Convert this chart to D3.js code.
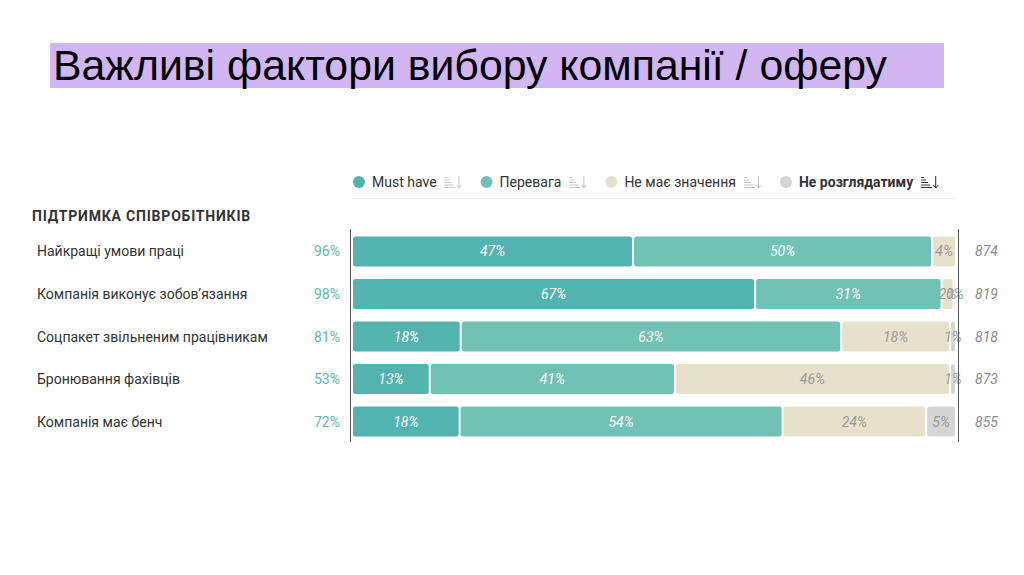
<!DOCTYPE html>
<html><head><meta charset="utf-8">
<script src="https://cdn.jsdelivr.net/npm/d3@7"></script>
<style>
body{margin:0;background:#fff;}
svg{display:block;}
</style></head>
<body>
<svg id="c" width="1024" height="575"></svg>
<script>
const title = "Важливі фактори вибору компанії / оферу";
const groupTitle = "ПІДТРИМКА СПІВРОБІТНИКІВ";
const categories = ["Найкращі умови праці","Компанія виконує зобов’язання","Соцпакет звільненим працівникам","Бронювання фахівців","Компанія має бенч"];
const seriesNames = ["Must have","Перевага","Не має значення","Не розглядатиму"];
const mustHave = [47,67,18,13,18];
const perevaha = [50,31,63,41,54];
const neMaye = [4,2,18,46,24];
const neRozg = [0,0.4,1,1,5];
const positiveTotal = [96,98,81,53,72];
const respondents = [874,819,818,873,855];

const colors = ["#52b4ae","#70c2b5","#e7e1cb","#d5d5d6"];
const labelColors = ["#ffffff","#ffffff","#9a9a96","#9a9a9a"];

const svg = d3.select("#c");
const font = "Roboto, 'Noto Sans', sans-serif";

// title
svg.append("rect").attr("x",50).attr("y",43).attr("width",894).attr("height",45).attr("fill","#d1b6f3");
svg.append("text").attr("x",53).attr("y",80).attr("font-family","'Liberation Sans', Arial, sans-serif")
  .attr("font-size",42.8).attr("fill","#000").text(title);

// legend
const legend = svg.append("g");
let lx = 359;
const legY = 182;
seriesNames.forEach((n,i)=>{
  const g = legend.append("g");
  g.append("circle").attr("cx",lx).attr("cy",legY).attr("r",6).attr("fill",colors[i]);
  const t = g.append("text").attr("x",lx+13).attr("y",legY+5).attr("font-family",font).attr("font-size",14)
    .attr("fill","#333").attr("font-weight", i===3?"bold":"normal").text(n);
  const w = t.node().getComputedTextLength();
  const ix = lx+13+w+8;
  const ic = i===3 ? "#333" : "#c4c4c4";
  const ig = g.append("g").attr("stroke",ic).attr("stroke-width",1).attr("fill","none");
  [[-5,3],[-2.5,5],[0,7],[2.5,9],[5,11]].forEach(([dy,len])=>{
    ig.append("line").attr("x1",ix).attr("x2",ix+len).attr("y1",legY+dy+0.5).attr("y2",legY+dy+0.5);
  });
  ig.append("line").attr("x1",ix+14.5).attr("x2",ix+14.5).attr("y1",legY-6).attr("y2",legY+6);
  ig.append("path").attr("d",`M${ix+12},${legY+3} L${ix+14.5},${legY+6} L${ix+17},${legY+3}`);
  lx = ix + 17 + 25;
});
svg.append("line").attr("x1",352).attr("x2",956).attr("y1",198.5).attr("y2",198.5).attr("stroke","#ececec");

// group title
svg.append("text").attr("x",32).attr("y",221).attr("font-family",font).attr("font-size",14)
  .attr("font-weight","bold").attr("letter-spacing",0.8).attr("fill","#333").text(groupTitle);

const y = d3.scaleBand().domain(categories).range([230,443]).paddingInner(0.29).paddingOuter(0.15);
const x0 = 352, x1 = 956;

const rows = categories.map((c,i)=>({cat:c, vals:[mustHave[i],perevaha[i],neMaye[i],neRozg[i]], tot:positiveTotal[i], n:respondents[i]}));

rows.forEach((r,ri)=>{
  const sum = d3.sum(r.vals);
  const x = d3.scaleLinear().domain([0,sum]).range([x0,x1]);
  const cy = y(r.cat)+y.bandwidth()/2;
  let acc = 0;
  const g = svg.append("g");
  r.vals.forEach((v,si)=>{
    const a = x(acc), b = x(acc+v);
    acc += v;
    if (v<=0) return;
    g.append("rect").attr("x",a+1).attr("y",y(r.cat)).attr("width",Math.max(0.5,b-a-2)).attr("height",y.bandwidth())
      .attr("rx",2.5).attr("fill",colors[si]);
  });
  acc = 0;
  r.vals.forEach((v,si)=>{
    const a = x(acc), b = x(acc+v);
    acc += v;
    if (v<=0) return;
    g.append("text").attr("x",(a+b)/2).attr("y",cy+5).attr("text-anchor","middle")
      .attr("font-family",font).attr("font-size",14).attr("font-style","italic")
      .attr("fill",labelColors[si]).text(Math.round(v)+"%");
  });
  svg.append("text").attr("x",37).attr("y",cy+5).attr("font-family",font).attr("font-size",14).attr("fill","#333").text(r.cat);
  svg.append("text").attr("x",340).attr("y",cy+5).attr("text-anchor","end").attr("font-family",font).attr("font-size",14).attr("fill","#5bb9b1").text(r.tot+"%");
  svg.append("text").attr("x",975).attr("y",cy+5).attr("font-family",font).attr("font-size",14).attr("font-style","italic").attr("fill","#8a8a8a").text(r.n);
});

svg.append("line").attr("x1",350.5).attr("x2",350.5).attr("y1",229).attr("y2",442).attr("stroke","#555").attr("stroke-width",1);
svg.append("line").attr("x1",958.5).attr("x2",958.5).attr("y1",229).attr("y2",442).attr("stroke","#555").attr("stroke-width",1);
</script>
</body></html>
